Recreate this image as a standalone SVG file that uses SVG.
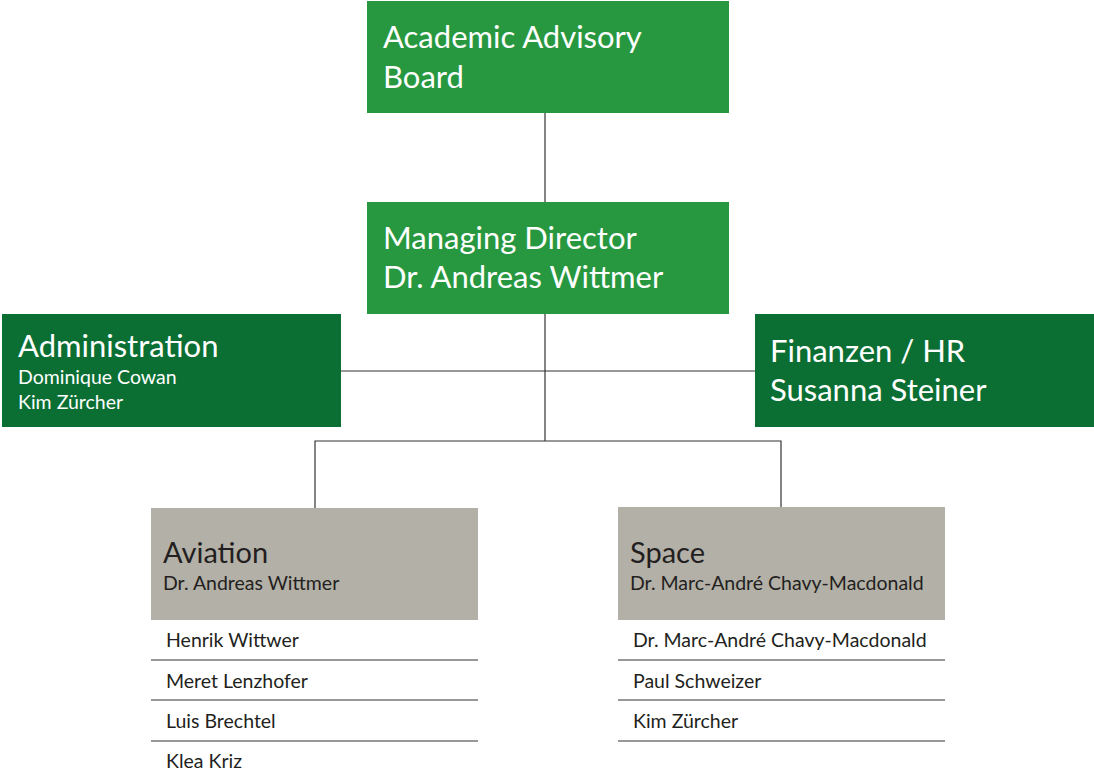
<svg xmlns="http://www.w3.org/2000/svg" width="1094" height="780" viewBox="0 0 1094 780">
<style>
text{font-family:Lato,"Open Sans","Liberation Sans",sans-serif}
.lg{fill:#27983f}
.dg{fill:#0b6f34}
.gr{fill:#b3b0a7}
.w{fill:#ffffff}
.k{fill:#231f20}
.t1{font-size:31px}
.t2{font-size:19.5px}
.t3{font-size:29px}
.ln{stroke:#333333;stroke-width:1.2;fill:none}
.sep{stroke:#333333;stroke-width:1.2}
</style>
<rect width="1094" height="780" fill="#ffffff"/>
<g id="connectors">
<path class="ln" d="M545 113V202"/>
<path class="ln" d="M545 314V441"/>
<path class="ln" d="M341 371H755"/>
<path class="ln" d="M315 508V441H781V507"/>
</g>
<g id="academic-board">
<rect class="lg" x="367" y="1" width="362" height="112"/>
<text class="w t1" x="383" y="48">Academic Advisory</text>
<text class="w t1" x="383" y="88">Board</text>
</g>
<g id="managing-director">
<rect class="lg" x="367" y="202" width="362" height="112"/>
<text class="w t1" x="383" y="249">Managing Director</text>
<text class="w t1" x="383" y="288">Dr. Andreas Wittmer</text>
</g>
<g id="administration">
<rect class="dg" x="2" y="314" width="339" height="113"/>
<text class="w t1" x="18" y="357">Administration</text>
<text class="w t2" x="18" y="384">Dominique Cowan</text>
<text class="w t2" x="18" y="409">Kim Zürcher</text>
</g>
<g id="finanzen">
<rect class="dg" x="755" y="314" width="339" height="113"/>
<text class="w t1" x="770" y="362">Finanzen / HR</text>
<text class="w t1" x="770" y="401">Susanna Steiner</text>
</g>
<g id="aviation">
<rect class="gr" x="151" y="508" width="327" height="112"/>
<text class="k t3" x="163" y="563">Aviation</text>
<text class="k t2" x="163" y="590">Dr. Andreas Wittmer</text>
<text class="k t2" x="166" y="647">Henrik Wittwer</text>
<line class="sep" x1="151" y1="660" x2="478" y2="660"/>
<text class="k t2" x="166" y="688">Meret Lenzhofer</text>
<line class="sep" x1="151" y1="700" x2="478" y2="700"/>
<text class="k t2" x="166" y="728">Luis Brechtel</text>
<line class="sep" x1="151" y1="741" x2="478" y2="741"/>
<text class="k t2" x="166" y="768">Klea Kriz</text>
</g>
<g id="space">
<rect class="gr" x="618" y="507" width="327" height="113"/>
<text class="k t3" x="630" y="563">Space</text>
<text class="k t2" x="630" y="590">Dr. Marc-André Chavy-Macdonald</text>
<text class="k t2" x="633" y="647">Dr. Marc-André Chavy-Macdonald</text>
<line class="sep" x1="618" y1="660" x2="945" y2="660"/>
<text class="k t2" x="633" y="688">Paul Schweizer</text>
<line class="sep" x1="618" y1="700" x2="945" y2="700"/>
<text class="k t2" x="633" y="728">Kim Zürcher</text>
<line class="sep" x1="618" y1="741" x2="945" y2="741"/>
</g>
</svg>
